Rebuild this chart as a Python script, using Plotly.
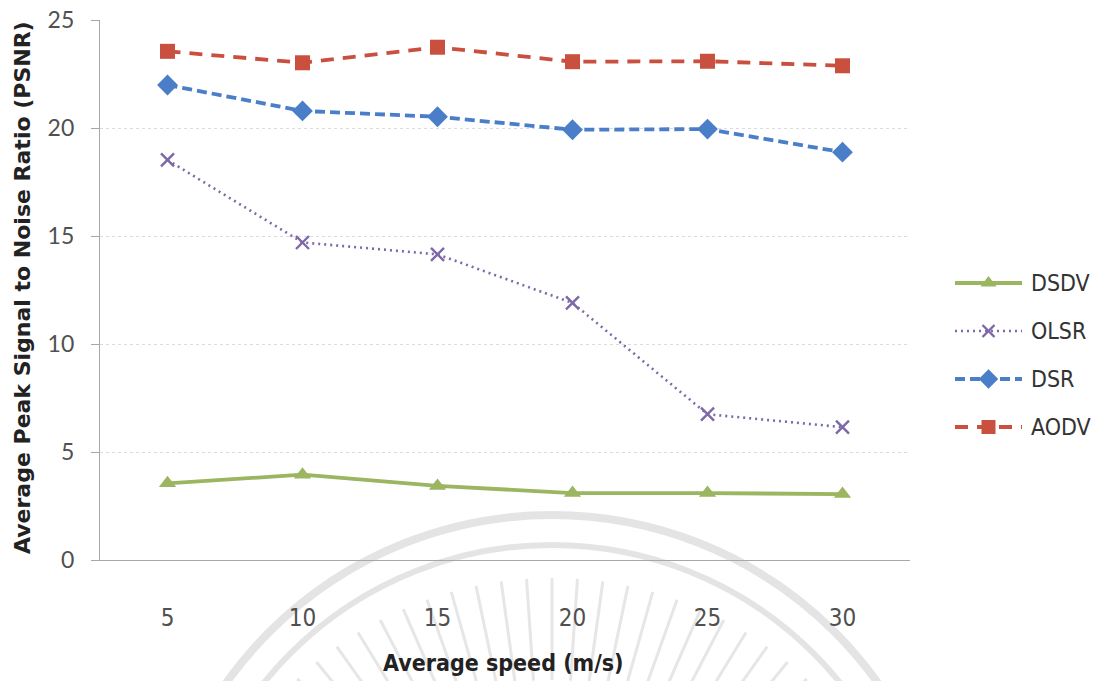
import numpy as np
import plotly.graph_objects as go

# ---- data -------------------------------------------------------------
speeds = ["5", "10", "15", "20", "25", "30"]
series_names = ["DSDV", "OLSR", "DSR", "AODV"]
dsdv = [3.55, 3.95, 3.43, 3.1, 3.1, 3.05]
olsr = [18.52, 14.7, 14.15, 11.9, 6.75, 6.15]
dsr = [21.99, 20.79, 20.52, 19.92, 19.95, 18.88]
aodv = [23.55, 23.02, 23.74, 23.07, 23.09, 22.88]
y_ticks = [0, 5, 10, 15, 20, 25]

W, H = 1106, 681

styles = {
    "DSDV": dict(color="#9BB561", dash="solid", width=3.8, symbol="triangle-up", size=15, mline=0),
    "OLSR": dict(color="#7E68A8", dash="2px,4px", width=2.6, symbol="x-thin", size=13, mline=2.4),
    "DSR": dict(color="#4A7EC8", dash="10px,5px", width=3.8, symbol="diamond", size=16, mline=0),
    "AODV": dict(color="#C9503F", dash="13px,9px", width=3.8, symbol="square", size=15, mline=0),
}
values = {"DSDV": dsdv, "OLSR": olsr, "DSR": dsr, "AODV": aodv}

fig = go.Figure()

for name in series_names:
    s = styles[name]
    fig.add_trace(go.Scatter(
        x=speeds, y=values[name], name=name, mode="lines+markers",
        line=dict(color=s["color"], dash=s["dash"], width=s["width"]),
        marker=dict(symbol=s["symbol"], size=s["size"], color=s["color"],
                    line=dict(color=s["color"], width=s["mline"])),
        showlegend=False, xaxis="x", yaxis="y",
    ))

# hand-built legend on its own small axes
for i, name in enumerate(series_names):
    s = styles[name]
    yy = 3 - i
    fig.add_trace(go.Scatter(
        x=[0, 1], y=[yy, yy], mode="lines",
        line=dict(color=s["color"], dash=s["dash"], width=s["width"]),
        showlegend=False, hoverinfo="skip", xaxis="x2", yaxis="y2",
    ))
    fig.add_trace(go.Scatter(
        x=[0.5], y=[yy], mode="markers",
        marker=dict(symbol=s["symbol"], size=s["size"] - 1, color=s["color"],
                    line=dict(color=s["color"], width=s["mline"])),
        showlegend=False, hoverinfo="skip", xaxis="x2", yaxis="y2",
    ))
    fig.add_annotation(x=1, y=yy, xref="x2", yref="y2", text=name, showarrow=False,
                       xanchor="left", yanchor="middle", xshift=7,
                       font=dict(family="Liberation Sans Narrow, DejaVu Sans Condensed, sans-serif",
                                 size=23, color="#333333"))

# faint seal watermark behind the chart
def px(x):
    return x / W

def py(y):
    return (H - y) / H

shapes = []
cx, cy = 552, 915
for r, wdt in [(400, 8), (370, 6)]:
    shapes.append(dict(type="circle", xref="paper", yref="paper", layer="below",
                       x0=px(cx - r), x1=px(cx + r), y0=py(cy + r), y1=py(cy - r),
                       line=dict(color="rgba(190,190,190,0.42)", width=wdt)))
rcx, rcy = 552, 950
for ang in np.linspace(35, 145, 29):
    a = np.deg2rad(ang)
    r0, r1 = 270, 372
    shapes.append(dict(type="line", xref="paper", yref="paper", layer="below",
                       x0=px(rcx + r0 * np.cos(a)), y0=py(rcy - r0 * np.sin(a)),
                       x1=px(rcx + r1 * np.cos(a)), y1=py(rcy - r1 * np.sin(a)),
                       line=dict(color="rgba(190,190,190,0.38)", width=3)))

tick_font = dict(family="Liberation Sans Narrow, DejaVu Sans Condensed, sans-serif",
                 size=24, color="#505050")
ytick_font = dict(family="Lato, Open Sans, sans-serif", size=23, color="#505050")

fig.update_layout(
    width=W, height=H, autosize=False,
    margin=dict(l=0, r=0, t=0, b=0, pad=0),
    paper_bgcolor="white", plot_bgcolor="rgba(0,0,0,0)",
    shapes=shapes,
    xaxis=dict(domain=[100 / W, 910 / W], type="category", range=[-0.5, 5.5],
               showline=True, linecolor="#a8a8a8", linewidth=1.2, showgrid=False,
               zeroline=False, ticks="", tickfont=tick_font, ticklabelstandoff=36,
               automargin=False, fixedrange=True),
    yaxis=dict(domain=[(H - 560) / H, (H - 20) / H], range=[0, 25],
               tickvals=y_ticks, showline=True, linecolor="#a8a8a8", linewidth=1.2,
               ticks="outside", ticklen=8, tickcolor="#a8a8a8", tickwidth=1.2,
               showgrid=True, gridcolor="#dcdcdc", griddash="dot", gridwidth=1,
               zeroline=False, tickfont=ytick_font, ticklabelstandoff=12,
               automargin=False, fixedrange=True),
    xaxis2=dict(domain=[955 / W, 1022 / W], range=[0, 1], visible=False,
                automargin=False, fixedrange=True),
    yaxis2=dict(domain=[(H - 451) / H, (H - 259) / H], range=[-0.5, 3.5],
                visible=False, automargin=False, fixedrange=True),
)

fig.add_annotation(x=px(503), y=py(663), xref="paper", yref="paper",
                   text="<b>Average speed (m/s)</b>", showarrow=False,
                   xanchor="center", yanchor="middle",
                   font=dict(family="Liberation Sans Narrow, DejaVu Sans Condensed, sans-serif",
                             size=23, color="#222222"))
fig.add_annotation(x=px(23), y=py(288), xref="paper", yref="paper",
                   text="<b>Average Peak Signal to Noise Ratio (PSNR)</b>", showarrow=False,
                   textangle=-90, xanchor="center", yanchor="middle",
                   font=dict(family="DejaVu Sans, sans-serif", size=22, color="#222222"))

fig.write_html("out.html")
